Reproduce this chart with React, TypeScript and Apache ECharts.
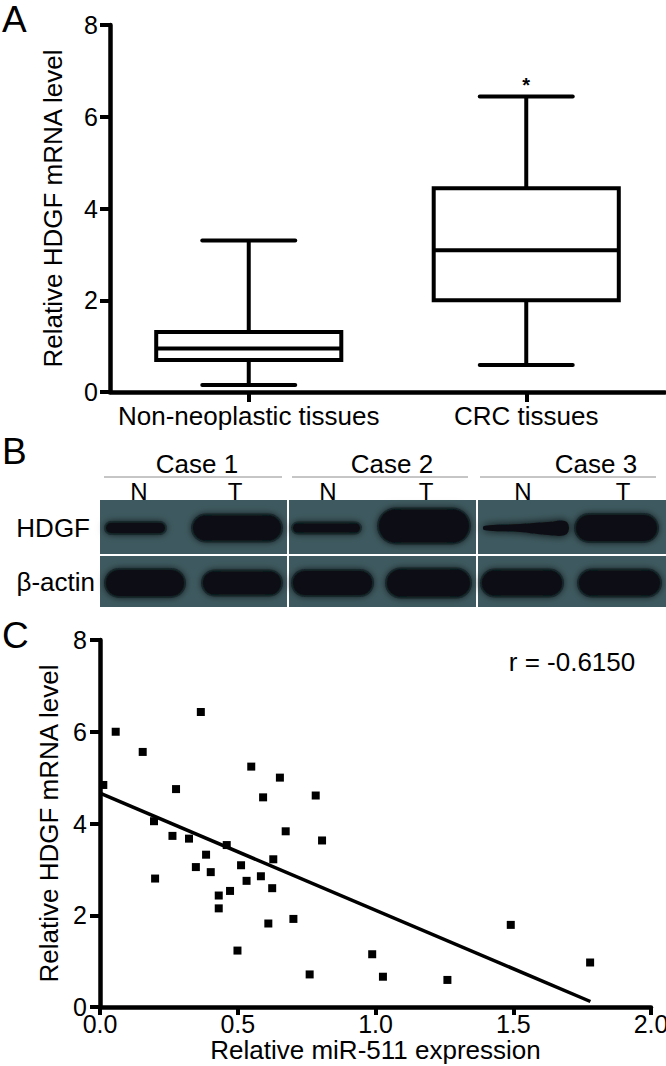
import React, { useEffect, useRef } from 'react';
import * as echarts from 'echarts';

// ---------- Panel A: box plot data ----------
const groups = ['Non-neoplastic tissues', 'CRC tissues'];
const boxMin = [0.15, 0.59];
const boxQ1 = [0.7, 2.0];
const boxMedian = [0.95, 3.09];
const boxQ3 = [1.31, 4.44];
const boxMax = [3.3, 6.44];
const boxMarks = ['', '*'];

const mrnaMin = 0;
const mrnaMax = 8;
const mrnaStep = 2;

// ---------- Panel B: western blot labels ----------
const cases = ['Case 1', 'Case 2', 'Case 3'];
const lanes = ['N', 'T'];
const proteins = ['HDGF', 'β-actin'];

// ---------- Panel C: scatter data ----------
const mirLevels = [
  0.012, 0.057, 0.155, 0.276, 0.196, 0.2, 0.263, 0.323, 0.366, 0.385, 0.348, 0.402,
  0.46, 0.431, 0.431, 0.472, 0.512, 0.532, 0.499, 0.549, 0.592, 0.584, 0.629, 0.625,
  0.611, 0.653, 0.674, 0.702, 0.761, 0.783, 0.806, 0.988, 1.027, 1.261, 1.491, 1.779,
];
const hdgfLevels = [
  4.84, 6.0, 5.56, 4.75, 4.05, 2.8, 3.73, 3.67, 6.43, 3.32, 3.05, 2.94,
  3.53, 2.43, 2.15, 2.53, 3.09, 2.75, 1.23, 5.24, 4.57, 2.85, 3.22, 2.59,
  1.82, 5.0, 3.83, 1.92, 0.71, 4.61, 3.63, 1.15, 0.66, 0.59, 1.79, 0.97,
];
const fitX = [0, 1.78];
const fitY = [4.66, 0.12];
const corrText = 'r = -0.6150';

const mirMin = 0;
const mirMax = 2;
const mirStep = 0.5;

const FONT = '"Liberation Sans", Arial, Helvetica, sans-serif';
const INK = '#000';

function blotGraphics(): any[] {
  const els: any[] = [];
  const panelX = [[100, 287], [289, 476], [478, 666]];
  const rowY = [[500, 554], [556, 607]];
  const bg = '#3e5a60';
  panelX.forEach(([x0, x1]) => {
    rowY.forEach(([y0, y1]) => {
      els.push({
        type: 'rect',
        shape: { x: x0, y: y0, width: x1 - x0, height: y1 - y0 },
        style: { fill: bg },
        silent: true,
      });
    });
  });
  // bands: [x0, x1, yCenter, height]
  const bands = [
    [106, 165, 528, 10],
    [193, 281, 528, 25],
    [293, 360, 528, 9],
    [379, 469, 526, 33],
    [576, 657, 528, 26],
    [106, 184, 583, 26],
    [203, 281, 583, 23],
    [293, 372, 583, 24],
    [387, 470, 583, 27],
    [482, 562, 583, 25],
    [579, 660, 583, 25],
  ];
  const dark = '#0b1013';
  bands.forEach(([x0, x1, yc, h]) => {
    els.push({
      type: 'rect',
      shape: { x: x0 - 2, y: yc - h / 2 - 2, width: x1 - x0 + 4, height: h + 4, r: h / 2 + 2 },
      style: { fill: 'rgba(12,18,21,0.4)', shadowBlur: 10, shadowColor: 'rgba(12,18,21,0.7)' },
      silent: true,
    });
    els.push({
      type: 'rect',
      shape: { x: x0, y: yc - h / 2, width: x1 - x0, height: h, r: h / 2 },
      style: { fill: dark, shadowBlur: 6, shadowColor: 'rgba(8,12,14,0.9)' },
      silent: true,
    });
  });
  // tapered band (case 3, N, HDGF)
  els.push({
    type: 'polygon',
    shape: {
      points: [
        [484, 526], [520, 524], [548, 522], [565, 521], [569, 528],
        [565, 535], [548, 535], [520, 532], [484, 530],
      ],
      smooth: 0.4,
    },
    style: { fill: dark, shadowBlur: 8, shadowColor: 'rgba(8,12,14,0.9)' },
    silent: true,
  });

  // header lines and texts
  const caseCenters = [197, 392, 596];
  const caseLines = [[104, 282], [292, 468], [480, 656]];
  const laneCenters = [[139, 235], [328, 426], [523, 623]];
  cases.forEach((c, i) => {
    els.push({
      type: 'text',
      style: { text: c, x: caseCenters[i], y: 464, align: 'center', verticalAlign: 'middle', font: `26px ${FONT}`, fill: INK },
      silent: true,
    });
    els.push({
      type: 'line',
      shape: { x1: caseLines[i][0], y1: 477, x2: caseLines[i][1], y2: 477 },
      style: { stroke: '#8c8c8c', lineWidth: 1 },
      silent: true,
    });
    lanes.forEach((l, j) => {
      els.push({
        type: 'text',
        style: { text: l, x: laneCenters[i][j], y: 491, align: 'center', verticalAlign: 'middle', font: `24px ${FONT}`, fill: INK },
        silent: true,
      });
    });
  });
  const protY = [528, 582];
  const protRight = [90, 95];
  proteins.forEach((p, i) => {
    els.push({
      type: 'text',
      style: { text: p, x: protRight[i], y: protY[i], align: 'right', verticalAlign: 'middle', font: `26px ${FONT}`, fill: INK },
      silent: true,
    });
  });
  return els;
}

export default function App() {
  const ref = useRef<HTMLDivElement>(null);

  useEffect(() => {
    if (!ref.current) return;
    const chart = echarts.init(ref.current, undefined, { renderer: 'svg' });

    const axisLine = { show: true, lineStyle: { color: INK, width: 4.5 } };
    const tickStyle = { color: INK, width: 4 };

    const option: any = {
      animation: false,
      backgroundColor: '#fff',
      textStyle: { fontFamily: FONT },
      grid: [
        { left: 110, top: 25, width: 555, height: 367, outerBoundsMode: 'none' },
        { left: 100, top: 640, width: 551, height: 367, outerBoundsMode: 'none' },
      ],
      xAxis: [
        {
          type: 'category',
          gridIndex: 0,
          data: groups,
          axisLine,
          axisTick: { show: true, alignWithLabel: true, length: 10, lineStyle: tickStyle },
          axisLabel: { fontSize: 26, color: INK, margin: 11, fontFamily: FONT, interval: 0 },
          splitLine: { show: false },
        },
        {
          type: 'value',
          gridIndex: 1,
          min: mirMin,
          max: mirMax,
          interval: mirStep,
          name: 'Relative miR-511 expression',
          nameLocation: 'middle',
          nameGap: 27,
          nameTextStyle: { fontSize: 26, color: INK, fontFamily: FONT },
          axisLine,
          axisTick: { show: true, length: 8, lineStyle: tickStyle },
          axisLabel: { fontSize: 25, color: INK, margin: 4, fontFamily: FONT, formatter: (v: number) => v.toFixed(1) },
          splitLine: { show: false },
        },
      ],
      yAxis: [
        {
          type: 'value',
          gridIndex: 0,
          min: mrnaMin,
          max: mrnaMax,
          interval: mrnaStep,
          name: 'Relative HDGF mRNA level',
          nameLocation: 'middle',
          nameGap: 44,
          nameTextStyle: { fontSize: 26, color: INK, fontFamily: FONT },
          axisLine,
          axisTick: { show: true, length: 10, lineStyle: tickStyle },
          axisLabel: { fontSize: 25, color: INK, margin: 12, fontFamily: FONT },
          splitLine: { show: false },
        },
        {
          type: 'value',
          gridIndex: 1,
          min: mrnaMin,
          max: mrnaMax,
          interval: mrnaStep,
          name: 'Relative HDGF mRNA level',
          nameLocation: 'middle',
          nameGap: 38,
          nameTextStyle: { fontSize: 26, color: INK, fontFamily: FONT },
          axisLine,
          axisTick: { show: true, length: 10, lineStyle: tickStyle },
          axisLabel: { fontSize: 25, color: INK, margin: 13, fontFamily: FONT },
          splitLine: { show: false },
        },
      ],
      series: [
        {
          type: 'custom',
          xAxisIndex: 0,
          yAxisIndex: 0,
          data: groups.map((_, i) => [i, boxMin[i], boxQ1[i], boxMedian[i], boxQ3[i], boxMax[i]]),
          encode: { x: 0, y: [1, 2, 3, 4, 5] },
          renderItem: (params: any, api: any) => {
            const idx = api.value(0);
            const lo = api.coord([idx, api.value(1)]);
            const q1 = api.coord([idx, api.value(2)]);
            const med = api.coord([idx, api.value(3)]);
            const q3 = api.coord([idx, api.value(4)]);
            const hi = api.coord([idx, api.value(5)]);
            const band = api.size([1, 0])[0];
            const bw = (band * 0.667) / 2;
            const cw = (band * 0.335) / 2;
            const x = lo[0];
            const ls = { stroke: INK, lineWidth: 4, fill: 'none' };
            const children: any[] = [
              { type: 'line', shape: { x1: x, y1: q3[1], x2: x, y2: hi[1] }, style: ls },
              { type: 'line', shape: { x1: x - cw, y1: hi[1], x2: x + cw, y2: hi[1] }, style: { ...ls, lineCap: 'round' } },
              { type: 'line', shape: { x1: x, y1: q1[1], x2: x, y2: lo[1] }, style: ls },
              { type: 'line', shape: { x1: x - cw, y1: lo[1], x2: x + cw, y2: lo[1] }, style: { ...ls, lineCap: 'round' } },
              { type: 'rect', shape: { x: x - bw, y: q3[1], width: bw * 2, height: q1[1] - q3[1] }, style: ls },
              { type: 'line', shape: { x1: x - bw, y1: med[1], x2: x + bw, y2: med[1] }, style: ls },
            ];
            const mark = boxMarks[params.dataIndex];
            if (mark) {
              children.push({
                type: 'text',
                style: { text: mark, x, y: hi[1] - 2, align: 'center', verticalAlign: 'bottom', font: `bold 20px ${FONT}`, fill: INK },
              });
            }
            return { type: 'group', children };
          },
          silent: true,
        },
        {
          type: 'scatter',
          xAxisIndex: 1,
          yAxisIndex: 1,
          data: mirLevels.map((x, i) => [x, hdgfLevels[i]]),
          symbol: 'rect',
          symbolSize: 8,
          itemStyle: { color: INK, opacity: 1 },
          silent: true,
        },
        {
          type: 'line',
          xAxisIndex: 1,
          yAxisIndex: 1,
          data: fitX.map((x, i) => [x, fitY[i]]),
          symbol: 'none',
          lineStyle: { color: INK, width: 3.5 },
          silent: true,
        },
      ],
      graphic: [
        { type: 'text', style: { text: 'A', x: 2, y: 19.5, verticalAlign: 'middle', font: `37px ${FONT}`, fill: INK } },
        { type: 'text', style: { text: 'B', x: 2, y: 451.5, verticalAlign: 'middle', font: `37px ${FONT}`, fill: INK } },
        { type: 'text', style: { text: 'C', x: 2, y: 635, verticalAlign: 'middle', font: `37px ${FONT}`, fill: INK } },
        { type: 'text', style: { text: corrText, x: 572, y: 662, align: 'center', verticalAlign: 'middle', font: `26px ${FONT}`, fill: INK } },
        ...blotGraphics(),
      ],
    };

    chart.setOption(option);
    return () => chart.dispose();
  }, []);

  return (
    <div
      ref={ref}
      style={{ position: 'absolute', left: 0, top: 0, width: 666, height: 1066, background: '#fff' }}
    />
  );
}
